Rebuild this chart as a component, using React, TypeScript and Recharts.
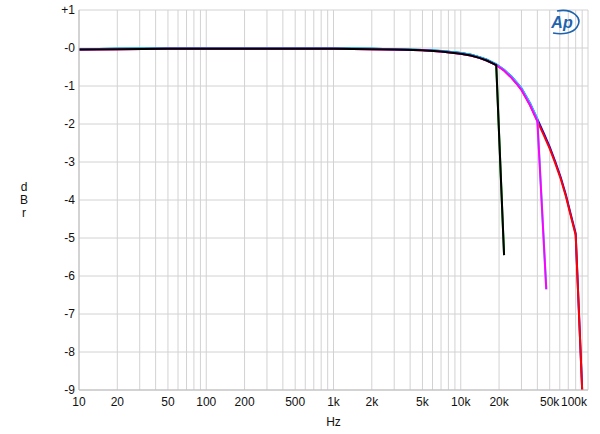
import React from "react";
import { LineChart, Line, XAxis, YAxis, CartesianGrid, Label } from "recharts";

// pass band, shared by all channels (Hz / dBr)
const passFreq = [10, 20, 50, 100, 200, 500, 1000, 2000, 3000, 5000, 7000, 10000, 12000, 14000, 16000, 18000, 19000];
const passLevelA = [-0.03, -0.02, -0.01, -0.01, -0.01, -0.01, -0.01, -0.02, -0.03, -0.05, -0.08, -0.13, -0.18, -0.24, -0.31, -0.39, -0.43];
const passLevelB = [-0.04, -0.03, -0.02, -0.02, -0.02, -0.02, -0.02, -0.03, -0.04, -0.06, -0.09, -0.15, -0.2, -0.26, -0.33, -0.41, -0.45];

// roll-off above 20k
const rollFreq = [20000, 22000, 25000, 28000, 30000, 35000, 40000];
const rollLevelA = [-0.48, -0.58, -0.75, -0.94, -1.06, -1.45, -1.87];
const rollLevelB = [-0.5, -0.6, -0.78, -0.97, -1.1, -1.5, -1.92];

const wideFreq = [45000, 50000, 55000, 61000, 67000, 73000, 80000];
const wideLevelA = [-2.25, -2.6, -2.97, -3.4, -3.86, -4.36, -4.88];
const wideLevelB = [-2.3, -2.65, -3.01, -3.44, -3.9, -4.4, -4.92];

// final drops
const drop44k = [21900];
const drop44kLevel = [-5.45];
const drop96k = [47000];
const drop96kLevel = [-6.35];
const drop192k = [90000];
const drop192kLevel = [-9];

const freqLabelValues = [10, 20, 50, 100, 200, 500, 1000, 2000, 5000, 10000, 20000, 50000, 100000];
const freqLabels = ["10", "20", "50", "100", "200", "500", "1k", "2k", "5k", "10k", "20k", "50k", "100k"];
const levelTicks = [1, 0, -1, -2, -3, -4, -5, -6, -7, -8, -9];

const decades = [10, 100, 1000, 10000];
const gridFreq = [...decades.flatMap((d) => [1, 2, 3, 4, 5, 6, 7, 8, 9].map((m) => m * d)), 100000];
const minorLevelTicks = Array.from({ length: 101 }, (_, i) => Math.round((1 - i * 0.1) * 10) / 10);

const pts = (f: number[], v: number[]) => f.map((x, i) => ({ f: x, v: v[i] }));

const greenData = pts([...passFreq, ...drop44k], [...passLevelA, ...drop44kLevel]);
const blackData = pts([...passFreq, ...drop44k], [...passLevelB, ...drop44kLevel]);
const cyanData = pts([...passFreq, ...rollFreq, ...drop96k], [...passLevelA, ...rollLevelA, ...drop96kLevel]);
const magentaData = pts([...passFreq, ...rollFreq, ...drop96k], [...passLevelB, ...rollLevelB, ...drop96kLevel]);
const blueData = pts(
  [...passFreq, ...rollFreq, ...wideFreq, ...drop192k],
  [...passLevelA, ...rollLevelA, ...wideLevelA, ...drop192kLevel]
);
const redData = pts(
  [...passFreq, ...rollFreq, ...wideFreq, ...drop192k],
  [...passLevelB, ...rollLevelB, ...wideLevelB, ...drop192kLevel]
);

const font = "'Liberation Sans', Arial, sans-serif";

const FreqTick = (props: any) => {
  const { x, y, payload } = props;
  const i = freqLabelValues.indexOf(payload.value);
  if (i < 0) return <g />;
  const last = payload.value === 100000;
  return (
    <text x={last ? x - 1 : x} y={y} dy={10} textAnchor={last ? "end" : "middle"} fontSize={12} fill="#111" fontFamily={font}>
      {freqLabels[i]}
    </text>
  );
};

const fmtLevel = (v: number) => (v > 0 ? `+${v}` : v === 0 ? "-0" : `${v}`);

const DbrLabel = (props: any) => {
  const { viewBox } = props;
  const cx = viewBox.x + 24;
  const cy = viewBox.y + viewBox.height / 2 + 4;
  return (
    <text x={cx} y={cy} textAnchor="middle" fontSize={12} fill="#111" fontFamily={font}>
      <tspan x={cx} dy={-13}>d</tspan>
      <tspan x={cx} dy={13}>B</tspan>
      <tspan x={cx} dy={13}>r</tspan>
    </text>
  );
};

export default function App() {
  return (
    <div style={{ position: "absolute", left: 0, top: 0, width: 600, height: 434, background: "#fff" }}>
      <LineChart width={600} height={434} margin={{ top: 10, right: 12, bottom: 0, left: 0 }}>
        <CartesianGrid stroke="#d2d2d2" strokeWidth={1} />
        <XAxis
          dataKey="f"
          type="number"
          scale="log"
          domain={[10, 100000]}
          ticks={gridFreq}
          interval={0}
          allowDataOverflow
          height={44}
          tickSize={0}
          tickMargin={6}
          axisLine={{ stroke: "#bdbdbd" }}
          tickLine={false}
          tick={<FreqTick />}
        >
          <Label value="Hz" position="insideBottom" offset={8} fontSize={12} fill="#111" fontFamily={font} />
        </XAxis>
        <YAxis
          dataKey="v"
          type="number"
          domain={[-9, 1]}
          ticks={levelTicks}
          interval={0}
          allowDataOverflow
          width={79}
          tickSize={0}
          tickMargin={4}
          axisLine={{ stroke: "#bdbdbd" }}
          tickLine={false}
          tickFormatter={fmtLevel}
          tick={{ fontSize: 12, fill: "#111", fontFamily: font }}
        >
          <Label content={<DbrLabel />} />
        </YAxis>
        <YAxis
          yAxisId="minor"
          type="number"
          domain={[-9, 1]}
          ticks={minorLevelTicks}
          interval={0}
          mirror
          width={0}
          tickSize={4}
          axisLine={false}
          tickLine={{ stroke: "#c8c8c8" }}
          tick={false}
        />
        <Line data={greenData} dataKey="v" type="linear" stroke="#00b400" strokeWidth={2} dot={false} isAnimationActive={false} />
        <Line data={blueData} dataKey="v" type="linear" stroke="#0000ff" strokeWidth={2} dot={false} isAnimationActive={false} />
        <Line data={redData} dataKey="v" type="linear" stroke="#ff0000" strokeWidth={2} dot={false} isAnimationActive={false} />
        <Line data={cyanData} dataKey="v" type="linear" stroke="#00e5ff" strokeWidth={2} dot={false} isAnimationActive={false} />
        <Line data={magentaData} dataKey="v" type="linear" stroke="#ff00ff" strokeWidth={2} dot={false} isAnimationActive={false} />
        <Line data={blackData} dataKey="v" type="linear" stroke="#000000" strokeWidth={2} dot={false} isAnimationActive={false} />
      </LineChart>
      <svg width={40} height={30} style={{ position: "absolute", left: 543, top: 8 }}>
        <path d="M 14 3 C 30 0, 40 10, 34 19 C 30 25, 20 27, 10 25" fill="none" stroke="#1f63ad" strokeWidth={1.6} />
        <text x={19} y={20} textAnchor="middle" fontSize={16} fontStyle="italic" fontWeight="bold" fill="#1f63ad" fontFamily={font}>
          Ap
        </text>
      </svg>
    </div>
  );
}
